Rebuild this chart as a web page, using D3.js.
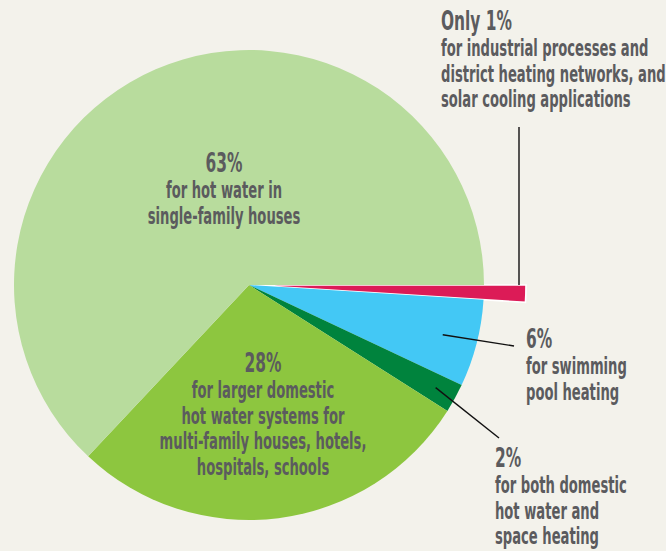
<!DOCTYPE html>
<html>
<head>
<meta charset="utf-8">
<script src="https://cdn.jsdelivr.net/npm/d3@7"></script>
<style>
  html, body { margin: 0; padding: 0; background: #f3f2eb; }
  svg { display: block; }
  .lbl text { font-family: "DejaVu Sans Condensed", "Liberation Sans Narrow", sans-serif; font-weight: bold; fill: #5b5b5e; }
</style>
</head>
<body>
<script>
// shares of solar thermal use, clockwise from 3 o'clock
var names = ["industrial", "pool", "both", "larger", "single"];
var values = [1, 6, 2, 28, 63];
var colors = ["#dc1b57", "#43c8f5", "#00833d", "#8dc63f", "#b8dc9d"];
var pctText = ["Only 1%", "6%", "2%", "28%", "63%"];
var descLines = [
  ["for industrial processes and", "district heating networks, and", "solar cooling applications"],
  ["for swimming", "pool heating"],
  ["for both domestic", "hot water and", "space heating"],
  ["for larger domestic", "hot water systems for", "multi-family houses, hotels,", "hospitals, schools"],
  ["for hot water in", "single-family houses"]
];

var width = 666, height = 551;
var cx = 249, cy = 285, r = 235, rBig = 277;
var sx = 0.635, lineH = 25.8;

var svg = d3.select("body").append("svg")
    .attr("width", width)
    .attr("height", height);

var g = svg.append("g").attr("transform", "translate(" + cx + "," + cy + ")");

var pie = d3.pie().sort(null).value(function (d) { return d; })
    .startAngle(Math.PI / 2).endAngle(Math.PI / 2 + 2 * Math.PI);
var arcs = pie(values);

var arc = d3.arc().innerRadius(0).outerRadius(function (d, i) { return d.index === 0 ? rBig : r; });

g.selectAll("path.slice")
    .data(arcs)
    .enter().append("path")
    .attr("class", "slice")
    .attr("d", function (d) { return arc(d); })
    .attr("fill", function (d, i) { return colors[i]; })
    .attr("stroke", function (d, i) { return i === 0 ? "#ffffff" : "none"; })
    .attr("stroke-width", 1.6);

// leader lines
function pt(angle, rad) {
  return [rad * Math.sin(angle), -rad * Math.cos(angle)];
}
var leaders = [
  { from: pt(arcs[0].startAngle, 270), to: [270, 127 - cy] },
  { from: pt((arcs[1].startAngle + arcs[1].endAngle) / 2, 200), to: [514 - cx, 346 - cy] },
  { from: pt((arcs[2].startAngle + arcs[2].endAngle) / 2, 213), to: [499 - cx, 438 - cy] }
];
leaders[0].to[0] = leaders[0].from[0];

g.selectAll("line.leader")
    .data(leaders)
    .enter().append("line")
    .attr("class", "leader")
    .attr("x1", function (d) { return d.from[0]; })
    .attr("y1", function (d) { return d.from[1]; })
    .attr("x2", function (d) { return d.to[0]; })
    .attr("y2", function (d) { return d.to[1]; })
    .attr("stroke", "#111")
    .attr("stroke-width", 1.4);

// label layout: x, first baseline, anchor
var layout = [
  { x: 441, y: 30, anchor: "start" },
  { x: 526, y: 348, anchor: "start" },
  { x: 495, y: 467, anchor: "start" },
  { x: 263, y: 372, anchor: "middle" },
  { x: 224, y: 172, anchor: "middle" }
];

layout.forEach(function (L, i) {
  var lg = svg.append("g").attr("class", "lbl")
      .attr("transform", "translate(" + L.x + ",0) scale(" + sx + ",1)");
  lg.append("text")
      .attr("x", 0).attr("y", L.y)
      .attr("text-anchor", L.anchor)
      .style("font-size", "27px")
      .text(pctText[i]);
  descLines[i].forEach(function (s, j) {
    lg.append("text")
        .attr("x", 0).attr("y", L.y + lineH * (j + 1))
        .attr("text-anchor", L.anchor)
        .style("font-size", "23px")
        .text(s);
  });
});
</script>
</body>
</html>
